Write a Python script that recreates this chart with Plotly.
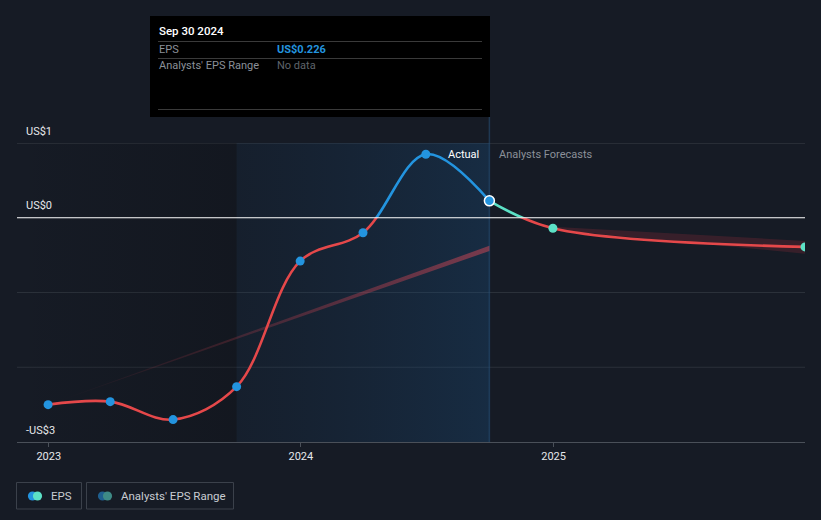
import plotly.graph_objects as go

# ---------------- data ----------------
actual_dates = ['2022-12-31', '2023-03-31', '2023-06-30', '2023-09-30',
                '2023-12-31', '2024-03-31', '2024-06-30', '2024-09-30']
actual_eps = [-2.50, -2.46, -2.70, -2.26, -0.58, -0.20, 0.85, 0.226]

forecast_dates = ['2024-09-30', '2024-12-31', '2025-12-31']
forecast_eps = [0.226, -0.14, -0.39]

band_dates = ['2024-12-31', '2025-12-31']
band_low = [-0.16, -0.48]
band_high = [-0.12, -0.31]

trend_dates = ['2022-12-31', '2024-09-30']
trend_eps = [-2.50, -0.41]

past_region = ['2022-11-16', '2023-09-30']
shaded_region = ['2023-09-30', '2024-09-30']

x_range = ['2022-11-16', '2025-12-31']
y_range = [-3, 1]
x_ticks = ['2023-01-01', '2024-01-01', '2025-01-01']
x_ticklabels = ['2023', '2024', '2025']
y_label_vals = [1, 0, -3]
y_label_text = ['US$1', 'US$0', '-US$3']
grid_vals = [1, -1, -2]

hover_date = '2024-09-30'
hover_title = 'Sep 30 2024'
hover_eps = 'US$0.226'

# ---------------- style ----------------
BG = '#161b25'
RED = '#e5484a'
BLUE = '#2394df'
TEAL = '#5ce1c6'
W, H = 821, 520
L, R, T, B = 17, 805, 143, 442

def PX(px):
    return (px - L) / (R - L)

def PY(py):
    return (B - py) / (B - T)

f0 = (0 - y_range[0]) / (y_range[1] - y_range[0])

fig = go.Figure()

# background regions (gradient fills)
fig.add_trace(go.Scatter(
    x=[past_region[0], past_region[1], past_region[1], past_region[0], past_region[0]],
    y=[y_range[0], y_range[0], y_range[1], y_range[1], y_range[0]],
    mode='none', fill='toself',
    fillgradient=dict(type='horizontal',
                      colorscale=[[0, 'rgba(10,12,16,0.0)'], [1, 'rgba(10,12,16,0.25)']]),
    hoverinfo='skip', showlegend=False, xaxis='x', yaxis='y'))
fig.add_trace(go.Scatter(
    x=[shaded_region[0], shaded_region[1], shaded_region[1], shaded_region[0], shaded_region[0]],
    y=[y_range[0], y_range[0], y_range[1], y_range[1], y_range[0]],
    mode='none', fill='toself',
    fillgradient=dict(type='horizontal',
                      colorscale=[[0, 'rgba(20,55,90,0.15)'], [1, 'rgba(25,80,130,0.32)']]),
    hoverinfo='skip', showlegend=False, xaxis='x', yaxis='y'))

# trend wedge (fades in to the right)
half_w = 0.035
fig.add_trace(go.Scatter(
    x=[trend_dates[0], trend_dates[1], trend_dates[1], trend_dates[0]],
    y=[trend_eps[0], trend_eps[1] - half_w, trend_eps[1] + half_w, trend_eps[0]],
    mode='none', fill='toself',
    fillgradient=dict(type='horizontal',
                      colorscale=[[0, 'rgba(200,60,75,0.0)'], [1, 'rgba(200,70,85,0.55)']]),
    hoverinfo='skip', showlegend=False, xaxis='x', yaxis='y'))

# forecast band
fig.add_trace(go.Scatter(x=band_dates, y=band_high, mode='lines', line=dict(width=0, shape='spline'),
                         hoverinfo='skip', showlegend=False, xaxis='x', yaxis='y'))
fig.add_trace(go.Scatter(x=band_dates, y=band_low, mode='lines', line=dict(width=0, shape='spline'),
                         fill='tonexty', fillcolor='rgba(190,50,65,0.2)',
                         hoverinfo='skip', showlegend=False, xaxis='x', yaxis='y'))

# lines above zero (y2) and below zero (y3)
fig.add_trace(go.Scatter(x=actual_dates, y=actual_eps, mode='lines',
                         line=dict(color=BLUE, width=2.6, shape='spline', smoothing=1),
                         hoverinfo='skip', showlegend=False, xaxis='x', yaxis='y2'))
fig.add_trace(go.Scatter(x=forecast_dates, y=forecast_eps, mode='lines',
                         line=dict(color=TEAL, width=2.6, shape='spline', smoothing=1),
                         hoverinfo='skip', showlegend=False, xaxis='x', yaxis='y2'))
fig.add_trace(go.Scatter(x=actual_dates, y=actual_eps, mode='lines',
                         line=dict(color=RED, width=2.6, shape='spline', smoothing=1),
                         hoverinfo='skip', showlegend=False, xaxis='x', yaxis='y3'))
fig.add_trace(go.Scatter(x=forecast_dates, y=forecast_eps, mode='lines',
                         line=dict(color=RED, width=2.6, shape='spline', smoothing=1),
                         hoverinfo='skip', showlegend=False, xaxis='x', yaxis='y3'))

# markers (y4)
fig.add_trace(go.Scatter(x=actual_dates[:-1], y=actual_eps[:-1], mode='markers',
                         marker=dict(color=BLUE, size=9),
                         hoverinfo='skip', showlegend=False, xaxis='x', yaxis='y4'))
fig.add_trace(go.Scatter(x=forecast_dates[1:], y=forecast_eps[1:], mode='markers',
                         marker=dict(color=TEAL, size=9),
                         hoverinfo='skip', showlegend=False, xaxis='x', yaxis='y4'))
fig.add_trace(go.Scatter(x=[actual_dates[-1]], y=[actual_eps[-1]], mode='markers',
                         marker=dict(color=BLUE, size=10, line=dict(color='white', width=1.5)),
                         hoverinfo='skip', showlegend=False, xaxis='x', yaxis='y4'))

shapes = []
# grid lines
for v in grid_vals:
    shapes.append(dict(type='line', xref='paper', yref='y', x0=0, x1=1, y0=v, y1=v,
                       line=dict(color='#3a4049' if v == 1 else '#2b313a', width=1), layer='below'))
# zero line
shapes.append(dict(type='line', xref='paper', yref='y', x0=0, x1=1, y0=0, y1=0,
                   line=dict(color='#ffffff', width=1.2), layer='above'))
# hover line
shapes.append(dict(type='line', xref='x', yref='paper', x0=hover_date, x1=hover_date,
                   y0=0, y1=PY(117), line=dict(color='rgba(40,80,120,0.55)', width=1.5), layer='below'))
# tooltip box
shapes.append(dict(type='rect', xref='paper', yref='paper', x0=PX(150), x1=PX(490),
                   y0=PY(117), y1=PY(16), fillcolor='#000000', line=dict(width=0)))
for py in [41.5, 58.5, 109.5]:
    shapes.append(dict(type='line', xref='paper', yref='paper', x0=PX(158), x1=PX(482),
                       y0=PY(py), y1=PY(py), line=dict(color='#3a3a3a', width=1)))
# legend boxes
for x0, x1 in [(16.5, 81.5), (86.5, 233.5)]:
    shapes.append(dict(type='rect', xref='paper', yref='paper', x0=PX(x0), x1=PX(x1),
                       y0=PY(509), y1=PY(482.5), fillcolor='rgba(0,0,0,0)',
                       line=dict(color='#3b414b', width=1)))
for cx, col in [(32.5, BLUE), (37.5, TEAL), (102.5, '#1f5f8f'), (107.5, '#3e8a86')]:
    shapes.append(dict(type='circle', xref='paper', yref='paper', x0=PX(cx - 4.6), x1=PX(cx + 4.6),
                       y0=PY(500.6), y1=PY(491.4), fillcolor=col, line=dict(width=0)))

annotations = []
FONT = 'Roboto, Arial, sans-serif'
def ann(text, px, py, color, size=12, anchor='left', weight=None):
    annotations.append(dict(text=text, xref='paper', yref='paper', x=PX(px), y=PY(py),
                            xanchor=anchor, yanchor='middle', showarrow=False,
                            font=dict(color=color, size=size, family=FONT,
                                      weight=weight if weight else 'normal')))

# y labels
for v, t in zip(y_label_vals, y_label_text):
    py = B - (v - y_range[0]) / (y_range[1] - y_range[0]) * (B - T) - 12
    ann(t, 24, py, '#e6e8eb', 11)

ann('Actual', 481, 154, '#ffffff', 11, 'right')
ann('Analysts Forecasts', 497, 154, '#8b9099', 11)

ann(hover_title, 157, 31, '#ffffff', 11.5, weight=500)
ann('EPS', 157, 49, '#8b9099', 11)
ann(hover_eps, 275, 49, BLUE, 11, weight='bold')
ann("Analysts' EPS Range", 157, 66, '#8b9099', 11)
ann('No data', 275, 66, '#5f646b', 11)

ann('EPS', 49, 496, '#c8ccd2', 11.5)
ann("Analysts' EPS Range", 119, 496, '#c8ccd2', 11.5)

fig.update_layout(
    width=W, height=H,
    margin=dict(l=L, r=W - R, t=T, b=H - B),
    paper_bgcolor=BG, plot_bgcolor='rgba(0,0,0,0)',
    font=dict(family=FONT, color='#e6e8eb'),
    showlegend=False,
    hovermode=False,
    xaxis=dict(type='date', range=x_range, tickvals=x_ticks, ticktext=x_ticklabels,
               showgrid=False, zeroline=False, showline=True, linecolor='#4a5059', linewidth=1,
               ticks='outside', ticklen=4, tickcolor='#4a5059',
               tickfont=dict(color='#e6e8eb', size=11, family=FONT), anchor='y'),
    yaxis=dict(range=y_range, domain=[0, 1], showgrid=False, zeroline=False,
               showticklabels=False, ticks=''),
    yaxis2=dict(range=[0, y_range[1]], domain=[f0, 1], anchor='x', showgrid=False,
                zeroline=False, showticklabels=False, ticks=''),
    yaxis3=dict(range=[y_range[0], 0], domain=[0, f0], anchor='x', showgrid=False,
                zeroline=False, showticklabels=False, ticks=''),
    yaxis4=dict(range=y_range, domain=[0, 1], anchor='x', showgrid=False,
                zeroline=False, showticklabels=False, ticks=''),
    shapes=shapes,
    annotations=annotations,
)

fig.write_html('out.html', config={'displayModeBar': False},
               post_script="document.body.style.margin='0';document.body.style.background='%s';" % BG)
